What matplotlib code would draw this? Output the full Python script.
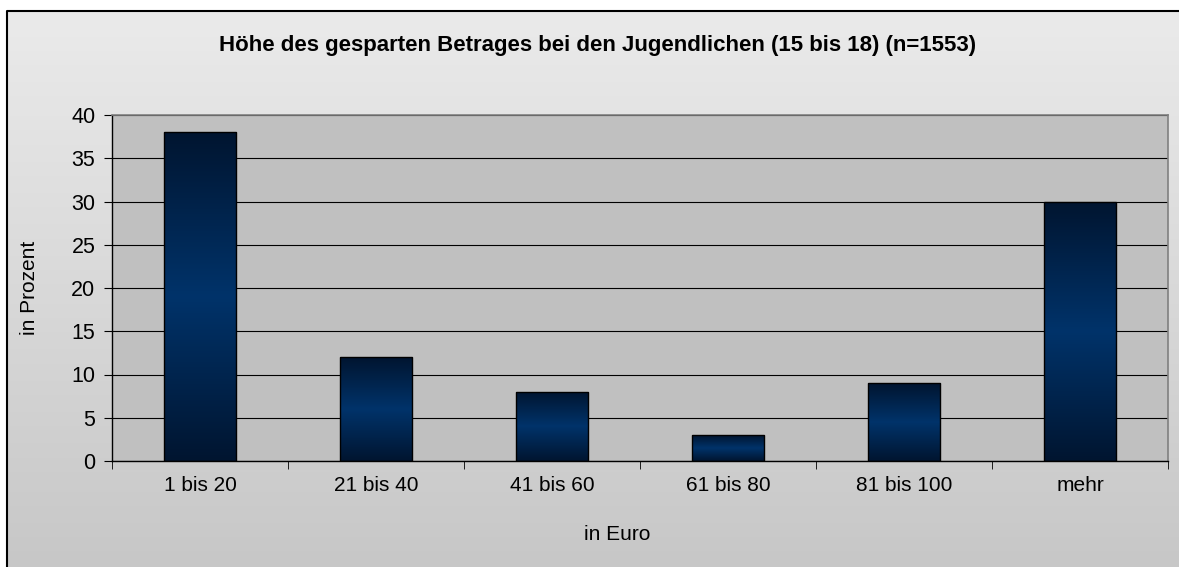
import numpy as np
import matplotlib
matplotlib.use('Agg')
import matplotlib.pyplot as plt
from matplotlib.colors import LinearSegmentedColormap
from matplotlib.lines import Line2D

plt.rcParams['font.family'] = ['Liberation Sans', 'DejaVu Sans']

categories = ['1 bis 20', '21 bis 40', '41 bis 60', '61 bis 80', '81 bis 100', 'mehr']
values = [38, 12, 8, 3, 9, 30]
yticks = [0, 5, 10, 15, 20, 25, 30, 35, 40]

W, H = 1179, 567
fig = plt.figure(figsize=(W / 100, H / 100), dpi=100)
fig.patch.set_facecolor('white')

# chart area background: vertical gradient, frame only on top/left (rest is cropped)
bg = fig.add_axes([0, 0, 1, 1], zorder=-2)
bg_cmap = LinearSegmentedColormap.from_list('bg', ['#eaeaea', '#c6c6c6'])
ys = np.linspace(11, H + 10, 200)
shade = ((ys[:-1] + ys[1:]) / 2 - 11) / (H - 1)
bg.pcolormesh([7, W + 20], ys, shade.reshape(-1, 1), cmap=bg_cmap, vmin=0, vmax=1,
              shading='flat', antialiased=False, edgecolors='none')
bg.set_xlim(0, W)
bg.set_ylim(H, 0)
bg.axis('off')
fig.add_artist(Line2D([7 / W, 7 / W, 1.02], [-0.02, 1 - 11 / H, 1 - 11 / H],
                      transform=fig.transFigure, color='black', lw=1.5))

ax = fig.add_axes([112 / W, (H - 461) / H, 1056 / W, 346 / H])
ax.set_facecolor('#c0c0c0')
x = np.arange(len(categories))
bars = ax.bar(x, values, width=0.41, color='none', edgecolor='black', lw=1, zorder=3)

grad = np.linspace(0, 1, 256).reshape(-1, 1)
bar_cmap = LinearSegmentedColormap.from_list('bar', ['#001530', '#00336a', '#001530'])
for b in bars:
    x0, y0 = b.get_x(), b.get_y()
    w, h = b.get_width(), b.get_height()
    im = ax.imshow(grad, cmap=bar_cmap, extent=[x0, x0 + w, y0, y0 + h],
                   aspect='auto', zorder=2)
    im.set_clip_path(b)

ax.set_xlim(-0.5, len(categories) - 0.5)
ax.set_ylim(0, 40)
ax.set_yticks(yticks)
ax.set_xticks(x)
ax.set_xticklabels(categories, fontsize=15)
ax.tick_params(axis='x', length=0, pad=11)
ax.set_xticks(np.arange(len(categories) + 1) - 0.5, minor=True)
ax.tick_params(axis='x', which='minor', length=6, direction='out', color='black')
ax.tick_params(axis='y', labelsize=15.5, length=6, direction='out', pad=6)
ax.grid(axis='y', color='black', lw=0.8, zorder=1)
ax.set_axisbelow(True)
for s in ['top', 'right']:
    ax.spines[s].set_color('#808080')
    ax.spines[s].set_linewidth(1.2)
for s in ['left', 'bottom']:
    ax.spines[s].set_color('black')
    ax.spines[s].set_linewidth(1)

fig.text(598 / W, 1 - 46 / H, 'Höhe des gesparten Betrages bei den Jugendlichen (15 bis 18) (n=1553)',
         ha='center', va='center', fontsize=16, fontweight='bold')
fig.text(617 / W, 1 - 534 / H, 'in Euro', ha='center', va='center', fontsize=15)
fig.text(30 / W, 1 - 288 / H, 'in Prozent', ha='center', va='center', fontsize=15, rotation=90)

fig.savefig('out.png', dpi=100)
